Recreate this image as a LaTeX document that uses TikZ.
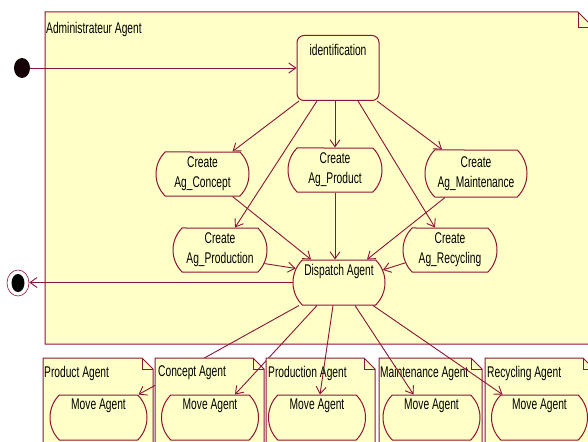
\documentclass[tikz,border=0pt]{standalone}
\usepackage{fontspec}
\setmainfont{Liberation Sans}[FakeStretch=0.66]
\usetikzlibrary{shapes.misc,shapes.geometric,arrows.meta}
\definecolor{ln}{RGB}{140,20,55}
\definecolor{fl}{RGB}{255,255,200}
\begin{document}
\begin{tikzpicture}[x=1pt,y=-1pt,
 every node/.style={font=\fontsize{15.5}{20}\selectfont, inner sep=0pt},
 act/.style={rounded rectangle, rounded rectangle arc length=90, draw=ln, fill=fl, line width=1pt, align=center},
 arr/.style={draw=ln, line width=0.9pt, -{Straight Barb[length=7pt,width=10pt]}},
 notebox/.style={draw=ln, fill=fl, line width=1pt},
 foldline/.style={draw=ln, line width=1pt},
]
\useasboundingbox (0,0) rectangle (588,441);
\clip (0,0) rectangle (588,441);

% main frame
\draw[notebox] (45,12) -- (578,12) -- (594,28) -- (594,344) -- (45,344) -- cycle;
\draw[foldline] (578,12) -- (578,28) -- (594,28);
\node[anchor=west] (admintitle) at (46,29) {Administrateur Agent};

% states
\node[ellipse, fill=black!85!ln, minimum width=16pt, minimum height=20pt] (init) at (22,68) {};
\node[ellipse, draw=ln, line width=0.6pt, minimum width=22pt, minimum height=26pt] (final) at (18,283) {};
\node[ellipse, fill=black, minimum width=13pt, minimum height=18pt] (finalin) at (18,283) {};

\node[draw=ln, fill=fl, rounded corners=7pt, line width=1pt, minimum width=82pt, minimum height=65pt] (ident) at (338,68) {};
\node (identtxt) at (338,50) {identification};

\node[act, minimum width=93pt, minimum height=44pt] (concept) at (202.5,174) {Create\\Ag\_Concept};
\node[act, minimum width=94pt, minimum height=44pt] (product) at (335,170) {Create\\Ag\_Product};
\node[act, minimum width=102pt, minimum height=47pt] (maint) at (476,173.5) {Create\\Ag\_Maintenance};
\node[act, minimum width=94pt, minimum height=44pt] (prod) at (220,250) {Create\\Ag\_Production};
\node[act, minimum width=94pt, minimum height=44pt] (recyc) at (450,250) {Create\\Ag\_Recycling};
\node[act, minimum width=92pt, minimum height=45pt] (dispatch) at (339,282.5) {Dispatch Agent\\\strut};

% edges in frame
\draw[arr] (init.east |- ident.west) -- (ident.west);
\draw[arr] ([xshift=-39pt]ident.south) -- ([xshift=30pt]concept.north);
\draw[arr] ([xshift=-21pt]ident.south) -- ([xshift=15pt]prod.north);
\draw[arr] (ident.south -| product.north) -- (product.north);
\draw[arr] ([xshift=20pt]ident.south) -- ([xshift=-15pt]recyc.north);
\draw[arr] ([xshift=39pt]ident.south) -- ([xshift=-34pt]maint.north);

\draw[arr] ([xshift=30pt]concept.south) -- ([xshift=-28pt]dispatch.north);
\draw[arr] (prod.-17) -- (dispatch.162);
\draw[arr] (product.south) -- (product.south |- dispatch.north);
\draw[arr] ([xshift=-31pt]maint.south) -- ([xshift=28pt]dispatch.north);
\draw[arr] (recyc.196) -- (dispatch.16);
\draw[arr] (dispatch.west) -- (final.east |- dispatch.west);

% bottom notes
\draw[notebox] (43,358) -- (142,358) -- (153,369) -- (153,460) -- (43,460) -- cycle;
\draw[foldline] (142,358) -- (142,369) -- (153,369);
\node[anchor=west] (ntprod) at (44,373) {Product Agent};
\node[act, minimum width=97pt, minimum height=45pt] (mvprod) at (98.5,417.5) {Move Agent\\\strut};
\draw[arr] ([xshift=-40pt]dispatch.south) -- ([xshift=40pt]mvprod.north);

\draw[notebox] (155,358) -- (253,358) -- (264,369) -- (264,460) -- (155,460) -- cycle;
\draw[foldline] (253,358) -- (253,369) -- (264,369);
\node[anchor=west] (ntconc) at (158,373) {Concept Agent};
\node[act, minimum width=97pt, minimum height=45pt] (mvconc) at (210,417.5) {Move Agent\\\strut};
\draw[arr] ([xshift=-22pt]dispatch.south) -- ([xshift=25pt]mvconc.north);

\draw[notebox] (266,358) -- (364,358) -- (375,369) -- (375,460) -- (266,460) -- cycle;
\draw[foldline] (364,358) -- (364,369) -- (375,369);
\node[anchor=west] (ntpr) at (268,373) {Production Agent};
\node[act, minimum width=97pt, minimum height=45pt] (mvpr) at (317,417.5) {Move Agent\\\strut};
\draw[arr] ([xshift=-6pt]dispatch.south) -- ([xshift=3pt]mvpr.north);

\draw[notebox] (379,358) -- (471,358) -- (482,369) -- (482,460) -- (379,460) -- cycle;
\draw[foldline] (471,358) -- (471,369) -- (482,369);
\node[anchor=west] (ntmt) at (380,373) {Maintenance Agent};
\node[act, minimum width=97pt, minimum height=45pt] (mvmt) at (431.5,417.5) {Move Agent\\\strut};
\draw[arr] ([xshift=16pt]dispatch.south) -- ([xshift=-18pt]mvmt.north);

\draw[notebox] (485,358) -- (583,358) -- (594,369) -- (594,460) -- (485,460) -- cycle;
\draw[foldline] (583,358) -- (583,369) -- (594,369);
\node[anchor=west] (ntrc) at (487,373) {Recycling Agent};
\node[act, minimum width=96pt, minimum height=45pt] (mvrc) at (539.5,417.5) {Move Agent\\\strut};
\draw[arr] ([xshift=34pt]dispatch.south) -- ([xshift=-37pt]mvrc.north);
\end{tikzpicture}
\end{document}
